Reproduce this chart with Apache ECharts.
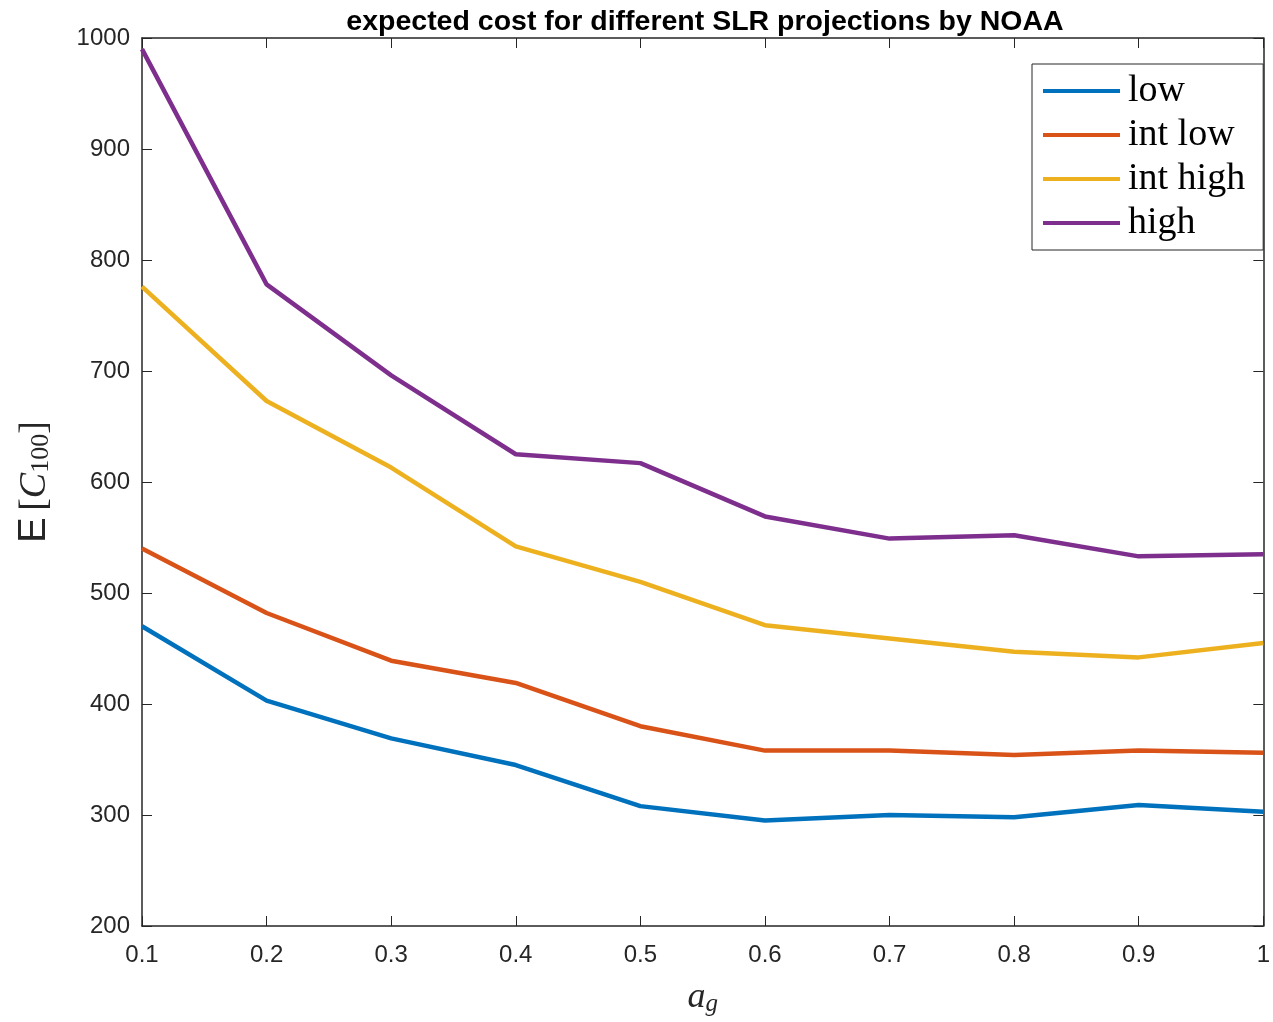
<!DOCTYPE html>
<html>
<head>
<meta charset="utf-8">
<script src="https://cdn.jsdelivr.net/npm/echarts@6/dist/echarts.min.js"></script>
<style>html,body{margin:0;padding:0;background:#fff;overflow:hidden;}#c{width:1273px;height:1022px;}</style>
</head>
<body>
<div id="c"></div>
<script>
const categories = ['0.1','0.2','0.3','0.4','0.5','0.6','0.7','0.8','0.9','1'];
const seriesNames = ['low','int low','int high','high'];
const lowVals     = [470, 403, 369, 345, 308, 295, 300, 298, 309, 303];
const intLowVals  = [540, 482, 439, 419, 380, 358, 358, 354, 358, 356];
const intHighVals = [776, 673, 613, 542, 510, 471, 459, 447, 442, 455];
const highVals    = [990, 778, 696, 625, 617, 569, 549, 552, 533, 535];
const colors = ['#0072BD','#D95319','#EDB120','#7E2F8E'];
const yTicks = {min:200, max:1000, interval:100};

const axisColor = '#262626';
const sans = '"Liberation Sans", Helvetica, Arial, sans-serif';
const serif = '"Liberation Serif", "DejaVu Serif", serif';

const chart = echarts.init(document.getElementById('c'), null, {renderer:'canvas', width:1273, height:1022});
const dataSets = [lowVals, intLowVals, intHighVals, highVals];

const tickCommon = {show:true, inside:true, length:10, lineStyle:{color:axisColor, width:1}};
const lineCommon = {show:true, onZero:false, lineStyle:{color:axisColor, width:1.5}};

chart.setOption({
  animation:false,
  backgroundColor:'#fff',
  title:{
    text:'expected cost for different SLR projections by NOAA',
    left:700, top:3, textAlign:'center',
    textStyle:{fontFamily:sans, fontSize:28.5, fontWeight:'bold', color:'#000'}
  },
  legend:{
    orient:'vertical', left:1032, top:64,
    data:seriesNames, icon:'rect', itemWidth:77, itemHeight:4, itemGap:6,
    padding:[8,18,8,11],
    borderColor:axisColor, borderWidth:1, backgroundColor:'#fff',
    textStyle:{fontFamily:serif, fontSize:38, color:'#000', lineHeight:38, padding:[0,0,0,3]}
  },
  grid:{left:142, right:1, top:38, bottom:96, containLabel:false},
  xAxis:[{
    type:'category', data:categories, boundaryGap:false,
    axisLine:lineCommon, axisTick:Object.assign({alignWithLabel:true}, tickCommon),
    axisLabel:{fontFamily:sans, fontSize:24, color:axisColor, margin:17},
    splitLine:{show:false},
    name:'{a|a}{g|g}', nameLocation:'middle', nameGap:52,
    nameTextStyle:{rich:{
      a:{fontFamily:serif, fontStyle:'italic', fontSize:36, color:axisColor},
      g:{fontFamily:serif, fontStyle:'italic', fontSize:25, color:axisColor, padding:[14,0,0,0]}
    }}
  },{
    type:'category', data:categories, boundaryGap:false, position:'top',
    axisLine:lineCommon, axisTick:tickCommon, axisLabel:{show:false}, splitLine:{show:false}
  }],
  yAxis:[{
    type:'value', min:yTicks.min, max:yTicks.max, interval:yTicks.interval,
    axisLine:lineCommon, axisTick:tickCommon,
    axisLabel:{fontFamily:sans, fontSize:24, color:axisColor, margin:12, formatter:(v)=>String(v)},
    splitLine:{show:false},
    name:'{e|E}  {b|[}{c|C}{d|100}{b|]}', nameLocation:'middle', nameGap:88, nameRotate:90,
    nameTextStyle:{rich:{
      e:{fontFamily:sans, fontSize:38, color:axisColor},
      b:{fontFamily:serif, fontSize:38, color:axisColor},
      c:{fontFamily:serif, fontStyle:'italic', fontSize:38, color:axisColor},
      d:{fontFamily:serif, fontSize:26, color:axisColor, padding:[12,0,0,0]}
    }}
  },{
    type:'value', min:yTicks.min, max:yTicks.max, interval:yTicks.interval, position:'right',
    axisLine:lineCommon, axisTick:tickCommon, axisLabel:{show:false}, splitLine:{show:false}
  }],
  series: seriesNames.map((n,i)=>({
    name:n, type:'line', data:dataSets[i], xAxisIndex:0, yAxisIndex:0,
    showSymbol:false, symbol:'none', color:colors[i],
    lineStyle:{width:4.5, color:colors[i]}, itemStyle:{color:colors[i]}
  }))
});
</script>
</body>
</html>
